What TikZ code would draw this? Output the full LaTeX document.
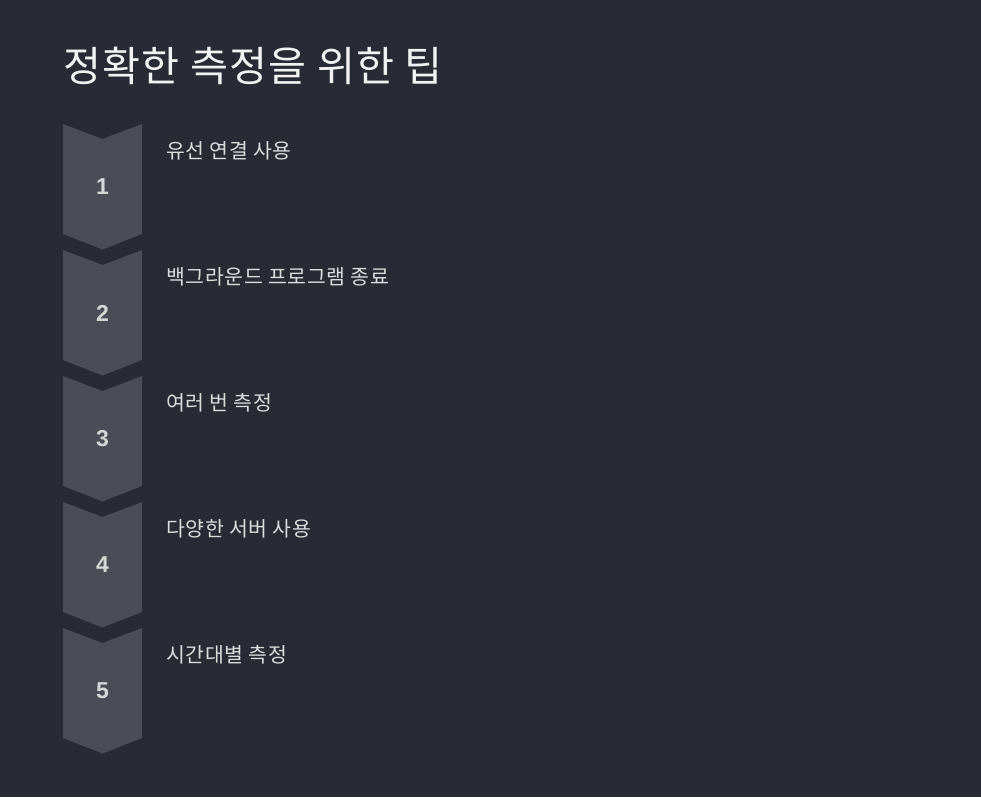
\documentclass[tikz,border=0pt]{standalone}
\usepackage{fontspec}
\setmainfont{Noto Sans CJK KR}
\newfontfamily\numfont{Liberation Sans}
\newfontfamily\labfont{Noto Sans CJK KR}[LetterSpace=3]
\newfontfamily\titfont{Noto Sans CJK KR}[LetterSpace=3]
\definecolor{bgc}{HTML}{282B33}
\definecolor{chev}{HTML}{4A4D55}
\definecolor{numc}{HTML}{D6D6D6}
\definecolor{labc}{HTML}{DCDCDC}
\definecolor{titc}{HTML}{F2F2F2}
\tikzset{
  chevshape/.style={fill=chev, draw=none},
  numlabel/.style={text=numc, font=\numfont\bfseries\fontsize{23}{24}\selectfont, inner sep=0},
  steplabel/.style={text=labc, font=\labfont\fontsize{20.5}{23}\selectfont, anchor=west, inner sep=0},
  titlelabel/.style={text=titc, font=\titfont\fontsize{41.3}{44}\selectfont, anchor=west, inner sep=0}
}
\begin{document}
\begin{tikzpicture}[x=1pt,y=-1pt]
\fill[bgc] (0,0) rectangle (981,797);
\useasboundingbox (0,0) rectangle (981,797);
\node[titlelabel] (title) at (63,66) {정확한 측정을 위한 팁};
\foreach \i/\t in {1/유선 연결 사용, 2/백그라운드 프로그램 종료, 3/여러 번 측정, 4/다양한 서버 사용, 5/시간대별 측정}{
  \pgfmathsetmacro{\y}{124+126*(\i-1)}
  \fill[chevshape] (63,\y) -- (102.5,\y+15) -- (142,\y) -- (142,\y+110) -- (102.5,\y+125.5) -- (63,\y+110) -- cycle;
  \node[numlabel] (n\i) at (102.5,\y+63) {\i};
  \node[steplabel] (s\i) at (166,\y+27) {\t};
}
\end{tikzpicture}
\end{document}
